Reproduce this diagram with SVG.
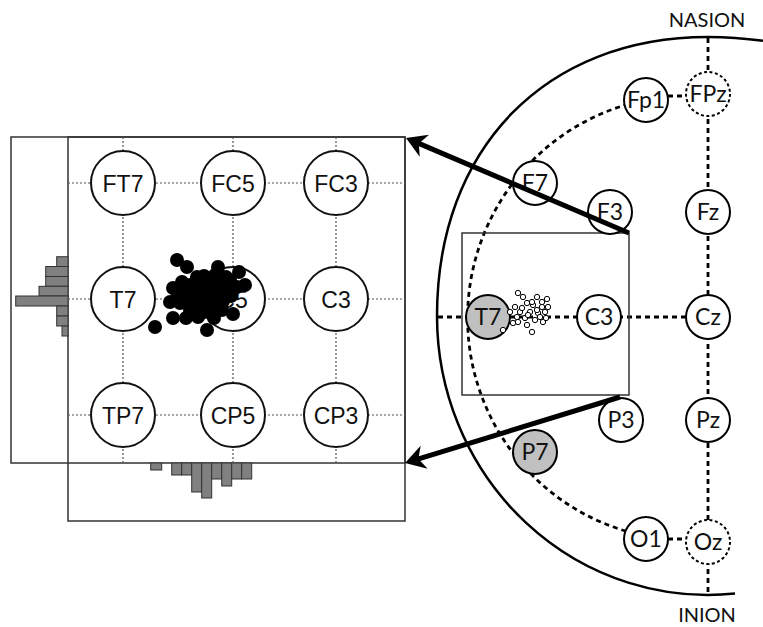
<svg xmlns="http://www.w3.org/2000/svg" width="763" height="627" viewBox="0 0 763 627">
<style>
  .frame{fill:none;stroke:#333;stroke-width:1.5}
  .grid{fill:none;stroke:#555;stroke-width:1.2;stroke-dasharray:2 2}
  .gnode{fill:#fff;stroke:#111;stroke-width:2}
  .glabel{font-family:"Liberation Sans",Arial,sans-serif;font-size:23px;fill:#111;text-anchor:middle}
  .bar{fill:#808080;stroke:#333;stroke-width:1}
  .dot{fill:#000}
  .head{fill:none;stroke:#000;stroke-width:2.5}
  .dash{fill:none;stroke:#000;stroke-width:2.8;stroke-dasharray:5 4}
  .hnode{fill:#fff;stroke:#000;stroke-width:2}
  .hnode.sel{fill:#c0c0c0}
  .hnode.ref{stroke-dasharray:3 2.5}
  .hlabel{font-family:Lato,"Open Sans",sans-serif;font-size:23px;fill:#111;text-anchor:middle}
  .land{font-family:Lato,"Open Sans",sans-serif;font-size:20px;fill:#111;text-anchor:middle}
  .pt{fill:#fff;stroke:#000;stroke-width:1}
  .arrow{stroke:#000;stroke-width:5;fill:none}
</style>
<defs>
  <marker id="ah" viewBox="-10 -13 22 26" refX="0" refY="0" markerWidth="22" markerHeight="26" markerUnits="userSpaceOnUse" orient="auto">
    <path d="M10,0 L-10,-12 L-4,0 L-10,12 Z" fill="#000"/>
  </marker>
</defs>

<!-- zoomed panel: frames -->
<g id="panel-frames">
  <rect class="frame" x="11" y="137" width="394" height="326"/>
  <rect class="frame" x="68" y="137" width="337" height="384"/>
</g>

<!-- marginal histograms -->
<g id="hist-left">
  <rect class="bar" x="56.7" y="256.7" width="11.3" height="9.8"/>
  <rect class="bar" x="45.7" y="266.5" width="22.3" height="10"/>
  <rect class="bar" x="45.7" y="276.5" width="22.3" height="9.8"/>
  <rect class="bar" x="39" y="286.3" width="29" height="9.7"/>
  <rect class="bar" x="15.7" y="296" width="52.3" height="10"/>
  <rect class="bar" x="56.7" y="306" width="11.3" height="10"/>
  <rect class="bar" x="56.7" y="316" width="11.3" height="10"/>
  <rect class="bar" x="62" y="326" width="6" height="10"/>
</g>
<g id="hist-bottom">
  <rect class="bar" x="150.7" y="463" width="11" height="7"/>
  <rect class="bar" x="171.7" y="463" width="10" height="12"/>
  <rect class="bar" x="181.7" y="463" width="10" height="12"/>
  <rect class="bar" x="191.7" y="463" width="10" height="29"/>
  <rect class="bar" x="201.7" y="463" width="10" height="35"/>
  <rect class="bar" x="211.7" y="463" width="10" height="16"/>
  <rect class="bar" x="221.7" y="463" width="10" height="23"/>
  <rect class="bar" x="231.7" y="463" width="10" height="16"/>
  <rect class="bar" x="241.7" y="463" width="10" height="16"/>
</g>

<!-- grid connectors -->
<g id="grid-connectors">
  <line class="grid" x1="68" y1="183" x2="405" y2="183"/>
  <line class="grid" x1="68" y1="299" x2="405" y2="299"/>
  <line class="grid" x1="68" y1="415" x2="405" y2="415"/>
  <line class="grid" x1="123" y1="137" x2="123" y2="463"/>
  <line class="grid" x1="233" y1="137" x2="233" y2="463"/>
  <line class="grid" x1="336" y1="137" x2="336" y2="463"/>
</g>

<!-- grid electrodes -->
<g id="g-FT7"><circle class="gnode" cx="123" cy="183" r="32"/><text class="glabel" x="123" y="191.5">FT7</text></g>
<g id="g-FC5"><circle class="gnode" cx="233" cy="183" r="32"/><text class="glabel" x="233" y="191.5">FC5</text></g>
<g id="g-FC3"><circle class="gnode" cx="336" cy="183" r="32"/><text class="glabel" x="336" y="191.5">FC3</text></g>
<g id="g-T7"><circle class="gnode" cx="123" cy="299" r="32"/><text class="glabel" x="123" y="307.5">T7</text></g>
<g id="g-C5"><circle class="gnode" cx="233" cy="299" r="32"/><text class="glabel" x="233" y="307.5">C5</text></g>
<g id="g-C3"><circle class="gnode" cx="336" cy="299" r="32"/><text class="glabel" x="336" y="307.5">C3</text></g>
<g id="g-TP7"><circle class="gnode" cx="123" cy="415" r="32"/><text class="glabel" x="123" y="423.5">TP7</text></g>
<g id="g-CP5"><circle class="gnode" cx="233" cy="415" r="32"/><text class="glabel" x="233" y="423.5">CP5</text></g>
<g id="g-CP3"><circle class="gnode" cx="336" cy="415" r="32"/><text class="glabel" x="336" y="423.5">CP3</text></g>

<!-- localisation scatter, zoomed -->
<g id="scatter-large" class="dot">
  <circle cx="177" cy="260" r="7"/><circle cx="187" cy="267" r="7"/><circle cx="218" cy="267" r="7"/>
  <circle cx="239" cy="272" r="7"/><circle cx="245" cy="285" r="7"/><circle cx="197" cy="277" r="7"/>
  <circle cx="173" cy="288" r="7"/><circle cx="155" cy="327" r="7"/><circle cx="173" cy="318" r="7"/>
  <circle cx="207" cy="330" r="7"/><circle cx="198" cy="317" r="7"/><circle cx="233" cy="314" r="7"/>
  <circle cx="180" cy="303" r="7"/><circle cx="190" cy="285" r="7"/><circle cx="200" cy="288" r="7"/>
  <circle cx="210" cy="283" r="7"/><circle cx="220" cy="285" r="7"/><circle cx="228" cy="290" r="7"/>
  <circle cx="231" cy="296" r="7"/><circle cx="205" cy="295" r="7"/><circle cx="215" cy="298" r="7"/>
  <circle cx="223" cy="301" r="7"/><circle cx="195" cy="298" r="7"/><circle cx="185" cy="293" r="7"/>
  <circle cx="200" cy="305" r="7"/><circle cx="212" cy="307" r="7"/><circle cx="222" cy="310" r="7"/>
  <circle cx="190" cy="310" r="7"/><circle cx="230" cy="280" r="7"/>
  <circle cx="208" cy="290" r="7"/><circle cx="218" cy="292" r="7"/><circle cx="198" cy="290" r="7"/>
  <circle cx="182" cy="282" r="7"/><circle cx="204" cy="276" r="7"/><circle cx="215" cy="275" r="7"/>
  <circle cx="226" cy="277" r="7"/><circle cx="214" cy="318" r="7"/><circle cx="204" cy="312" r="7"/>
  <circle cx="186" cy="318" r="7"/><circle cx="237" cy="287" r="7"/><circle cx="195" cy="283" r="7"/>
  <circle cx="190" cy="300" r="7"/><circle cx="210" cy="300" r="7"/>
  <circle cx="178" cy="295" r="7"/><circle cx="170" cy="302" r="7"/>
</g>

<!-- head outline: rounded crown, elliptical back -->
<path id="head-outline" class="head" d="M763,40.8 Q735,37 708,37 C545.4,37 437,148.6 437,316 A271 279 0 0 0 735,593.6"/>

<!-- head connectors -->
<g id="head-connectors">
  <line class="dash" x1="708" y1="38" x2="708" y2="594"/>
  <line class="dash" x1="438" y1="317" x2="708" y2="317"/>
  <path class="dash" d="M646,100 A220 222 0 0 0 646,536"/>
  <line class="dash" x1="668" y1="96" x2="688" y2="96"/>
  <line class="dash" x1="668" y1="539" x2="688" y2="539"/>
</g>

<!-- region of interest -->
<rect id="roi" class="frame" x="462" y="233" width="167" height="162"/>

<!-- head electrodes -->
<g id="h-Fp1"><circle class="hnode" cx="646" cy="100" r="22"/><text class="hlabel" x="646" y="108">Fp1</text></g>
<g id="h-FPz"><circle class="hnode ref" cx="708" cy="94" r="22"/><text class="hlabel" x="708" y="102">FPz</text></g>
<g id="h-F7"><circle class="hnode" cx="535" cy="183" r="22"/><text class="hlabel" x="535" y="191">F7</text></g>
<g id="h-F3"><circle class="hnode" cx="610" cy="212" r="22"/><text class="hlabel" x="610" y="220">F3</text></g>
<g id="h-Fz"><circle class="hnode" cx="708" cy="212" r="22"/><text class="hlabel" x="708" y="220">Fz</text></g>
<g id="h-T7"><circle class="hnode sel" cx="488" cy="317" r="22"/><text class="hlabel" x="488" y="325">T7</text></g>
<g id="h-C3"><circle class="hnode" cx="599" cy="317" r="22"/><text class="hlabel" x="599" y="325">C3</text></g>
<g id="h-Cz"><circle class="hnode" cx="708" cy="317" r="22"/><text class="hlabel" x="708" y="325">Cz</text></g>
<g id="h-P3"><circle class="hnode" cx="621" cy="420" r="22"/><text class="hlabel" x="621" y="428">P3</text></g>
<g id="h-Pz"><circle class="hnode" cx="708" cy="420" r="22"/><text class="hlabel" x="708" y="428">Pz</text></g>
<g id="h-P7"><circle class="hnode sel" cx="535" cy="452" r="22"/><text class="hlabel" x="535" y="460">P7</text></g>
<g id="h-O1"><circle class="hnode" cx="646" cy="539" r="22"/><text class="hlabel" x="646" y="547">O1</text></g>
<g id="h-Oz"><circle class="hnode ref" cx="708" cy="542" r="22"/><text class="hlabel" x="708" y="550">Oz</text></g>

<!-- localisation scatter on the head -->
<g id="scatter-small" class="pt">
  <circle cx="518" cy="293" r="2.7"/><circle cx="523" cy="297" r="2.7"/><circle cx="537" cy="297" r="2.7"/>
  <circle cx="547" cy="299" r="2.7"/><circle cx="527" cy="303" r="2.7"/><circle cx="533" cy="305" r="2.7"/>
  <circle cx="542" cy="307" r="2.7"/><circle cx="515" cy="307" r="2.7"/><circle cx="520" cy="312" r="2.7"/>
  <circle cx="530" cy="312" r="2.7"/><circle cx="538" cy="313" r="2.7"/><circle cx="545" cy="312" r="2.7"/>
  <circle cx="517" cy="317" r="2.7"/><circle cx="525" cy="318" r="2.7"/><circle cx="535" cy="320" r="2.7"/>
  <circle cx="543" cy="322" r="2.7"/><circle cx="513" cy="323" r="2.7"/><circle cx="527" cy="325" r="2.7"/>
  <circle cx="532" cy="332" r="2.7"/><circle cx="503" cy="330" r="2.7"/><circle cx="540" cy="317" r="2.7"/>
  <circle cx="528" cy="315" r="2.7"/><circle cx="522" cy="308" r="2.7"/><circle cx="537" cy="310" r="2.7"/>
  <circle cx="548" cy="307" r="2.7"/><circle cx="546" cy="318" r="2.7"/><circle cx="518" cy="322" r="2.7"/>
  <circle cx="510" cy="312" r="2.7"/><circle cx="532" cy="302" r="2.7"/><circle cx="542" cy="302" r="2.7"/>
</g>

<!-- zoom arrows -->
<g id="zoom-arrows">
  <line class="arrow" x1="629" y1="233" x2="415.2" y2="141.9" marker-end="url(#ah)"/>
  <line class="arrow" x1="620" y1="397" x2="414.6" y2="460.1" marker-end="url(#ah)"/>
</g>

<!-- landmarks -->
<g id="landmarks">
  <text class="land" x="707" y="27">NASION</text>
  <text class="land" x="707" y="622">INION</text>
</g>
</svg>
